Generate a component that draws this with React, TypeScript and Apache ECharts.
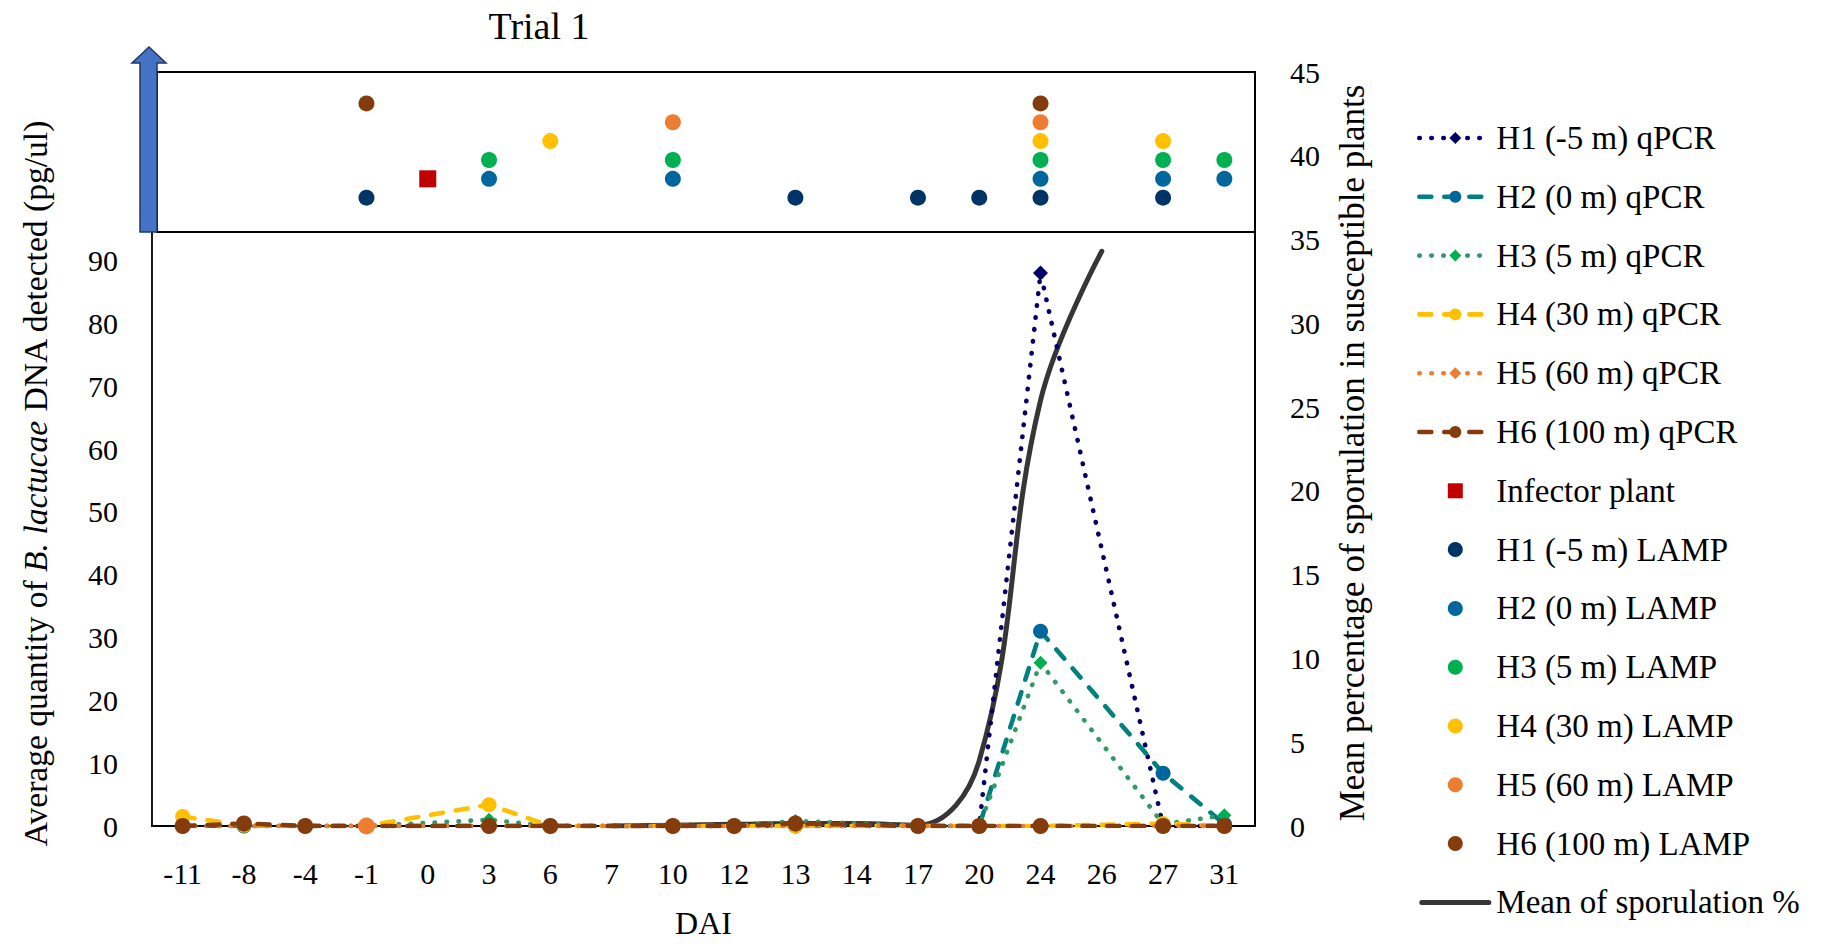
import { useEffect, useRef } from 'react';
import * as echarts from 'echarts';

// ---------- data ----------
const categories = ['-11', '-8', '-4', '-1', '0', '3', '6', '7', '10', '12', '13', '14', '17', '20', '24', '26', '27', '31'];

// qPCR: average quantity of DNA (pg/ul), left axis
const h1Qpcr = [0, 0, 0, 0, null, 0, 0, null, 0, 0, 0, null, 0, 0, 88, null, 0, 0];
const h2Qpcr = [0, 0, 0, 0, null, 0, 0, null, 0, 0, 0, null, 0, 0, 31, null, 8.4, 0.3];
const h3Qpcr = [0, 0, 0, 0, null, 1.0, 0, null, 0, 0, 0.8, null, 0, 0, 26, null, 0.3, 1.7];
const h4Qpcr = [1.5, 0.1, 0, 0, null, 3.4, 0, null, 0, 0, 0, null, 0, 0, 0, null, 0.4, 0];
const h5Qpcr = [0, 0, 0, 0, null, 0, 0, null, 0, 0, 0, null, 0, 0, 0, null, 0, 0];
const h6Qpcr = [0, 0.4, 0, null, null, 0, 0, null, 0, 0, 0.4, null, 0, 0, 0, null, 0, 0];

// mean sporulation %, right axis
const sporulation = [null, null, null, null, null, null, null, 0, 0.05, 0.1, 0.15, 0.15, 0.05, 3.9, 25.4, 34.3, null, null];

// LAMP positive detections (days), plotted as rows in the upper band
const lampH1Days = ['-1', '13', '17', '20', '24', '27'];
const lampH2Days = ['3', '10', '24', '27', '31'];
const lampH3Days = ['3', '10', '24', '27', '31'];
const lampH4Days = ['6', '24', '27'];
const lampH5Days = ['10', '24'];
const lampH6Days = ['-1', '24'];
const infectorDays = ['0'];
const lampRowLevels = [100, 103, 106, 109, 112, 115];
const infectorLevel = 103;

const leftTicksShownMax = 90;

// ---------- styles ----------
const FONT = 'Liberation Serif';
const DOTTED = [0.5, 11.5];
const DASHED = [12, 13];
const SQUARE_ICON = 'path://M0,0L10,0L10,10L0,10Z';
const LINE_ICON = 'path://M2.5,0L69.5,0A2.5,2.5,0,0,1,69.5,5L2.5,5A2.5,2.5,0,0,1,2.5,0Z';

function qpcr(name: string, data: any[], lineColor: string, markColor: string, dash: number[], symbol: string, size: number) {
  return {
    name,
    type: 'line',
    data,
    yAxisIndex: 0,
    connectNulls: true,
    symbol,
    symbolSize: size,
    showSymbol: true,
    itemStyle: { color: markColor, opacity: 1 },
    lineStyle: { color: lineColor, width: 4.6, type: dash, cap: 'round' },
    z: 3,
  };
}

function lamp(name: string, days: string[], level: number, color: string) {
  return {
    name,
    type: 'scatter',
    yAxisIndex: 0,
    symbol: 'circle',
    symbolSize: 16,
    itemStyle: { color, opacity: 1 },
    data: days.map((d) => [d, level]),
    z: 4,
  };
}

export default function App() {
  const ref = useRef<HTMLDivElement>(null);

  useEffect(() => {
    const chart = echarts.init(ref.current!, null, { renderer: 'svg' });

    const h5Data = h5Qpcr.map((v, i) => (categories[i] === '-1' && v !== null ? { value: v, symbol: 'circle', symbolSize: 17 } : v));

    const series: any[] = [
      qpcr('H1 (-5 m) qPCR', h1Qpcr, '#000066', '#000066', DOTTED, 'diamond', 15),
      qpcr('H2 (0 m) qPCR', h2Qpcr, '#008080', '#00669E', DASHED, 'circle', 15),
      qpcr('H3 (5 m) qPCR', h3Qpcr, '#339966', '#00B050', DOTTED, 'diamond', 14),
      qpcr('H4 (30 m) qPCR', h4Qpcr, '#FFC000', '#FFC000', DASHED, 'circle', 15),
      qpcr('H5 (60 m) qPCR', h5Data, '#ED7D31', '#ED7D31', DOTTED, 'diamond', 14),
      qpcr('H6 (100 m) qPCR', h6Qpcr, '#843C0C', '#843C0C', DASHED, 'circle', 16),
      {
        name: 'Infector plant',
        type: 'scatter',
        yAxisIndex: 0,
        symbol: 'rect',
        symbolSize: 17,
        itemStyle: { color: '#C00000', opacity: 1 },
        data: infectorDays.map((d) => [d, infectorLevel]),
        z: 4,
      },
      lamp('H1 (-5 m) LAMP', lampH1Days, lampRowLevels[0], '#003366'),
      lamp('H2 (0 m) LAMP', lampH2Days, lampRowLevels[1], '#00669E'),
      lamp('H3 (5 m) LAMP', lampH3Days, lampRowLevels[2], '#00B050'),
      lamp('H4 (30 m) LAMP', lampH4Days, lampRowLevels[3], '#FFC000'),
      lamp('H5 (60 m) LAMP', lampH5Days, lampRowLevels[4], '#ED7D31'),
      lamp('H6 (100 m) LAMP', lampH6Days, lampRowLevels[5], '#843C0C'),
      {
        name: 'Mean of sporulation %',
        type: 'line',
        yAxisIndex: 1,
        data: sporulation,
        smooth: 0.4,
        symbol: 'none',
        lineStyle: { color: '#363636', width: 5, cap: 'round' },
        itemStyle: { color: '#363636' },
        z: 2,
      },
    ];

    const legendData = series.map((s) => {
      if (s.name === 'Infector plant') return { name: s.name, icon: SQUARE_ICON };
      if (s.name === 'Mean of sporulation %') return { name: s.name, icon: LINE_ICON };
      return { name: s.name };
    });

    const option: any = {
      animation: false,
      backgroundColor: '#ffffff',
      textStyle: { fontFamily: FONT, color: '#000' },
      grid: { left: 152, right: 576, top: 72, bottom: 113, containLabel: false },
      legend: {
        orient: 'vertical',
        left: 1417,
        top: 121,
        padding: 0,
        itemWidth: 72,
        itemHeight: 15,
        itemGap: 24.8,
        lineStyle: { width: 4.6, cap: 'round' },
        textStyle: { fontFamily: FONT, fontSize: 33, lineHeight: 34, color: '#000' },
        data: legendData,
      },
      xAxis: {
        type: 'category',
        data: categories,
        boundaryGap: true,
        axisLine: { show: true, lineStyle: { color: '#000', width: 2 } },
        axisTick: { show: false },
        axisLabel: { fontFamily: FONT, fontSize: 30, color: '#000', margin: 32, interval: 0 },
        splitLine: { show: false },
        name: 'DAI',
        nameLocation: 'middle',
        nameGap: 81,
        nameTextStyle: { fontFamily: FONT, fontSize: 32, color: '#000' },
      },
      yAxis: [
        {
          type: 'value',
          min: 0,
          max: 120,
          interval: 10,
          position: 'left',
          axisLine: { show: true, lineStyle: { color: '#000', width: 1.8 } },
          axisTick: { show: false },
          splitLine: { show: false },
          axisLabel: {
            fontFamily: FONT,
            fontSize: 30,
            color: '#000',
            margin: 34,
            formatter: (v: number) => (v <= leftTicksShownMax ? String(v) : ''),
          },
        },
        {
          type: 'value',
          min: 0,
          max: 45,
          interval: 5,
          position: 'right',
          axisLine: { show: true, lineStyle: { color: '#000', width: 2 } },
          axisTick: { show: false },
          splitLine: { show: false },
          axisLabel: { fontFamily: FONT, fontSize: 30, color: '#000', margin: 35 },
        },
      ],
      graphic: [
        {
          type: 'rect',
          z: 10,
          shape: { x: 157, y: 72, width: 1098, height: 160 },
          style: { fill: 'none', stroke: '#000', lineWidth: 2 },
          silent: true,
        },
        {
          type: 'polygon',
          z: 11,
          shape: { points: [[149, 47], [166, 63], [157, 63], [157, 232], [140, 232], [140, 63], [132, 63]] },
          style: { fill: '#4472C4', stroke: '#1F3864', lineWidth: 1.5 },
          silent: true,
        },
        {
          type: 'text',
          z: 11,
          x: 539,
          y: 26,
          style: { text: 'Trial 1', fontFamily: FONT, fontSize: 38, fill: '#000', align: 'center', verticalAlign: 'middle' },
        },
        {
          type: 'text',
          z: 11,
          x: 35,
          y: 483,
          rotation: Math.PI / 2,
          style: {
            text: '{a|Average quantity of }{b|B. lactucae}{a| DNA detected (pg/ul)}',
            align: 'center',
            verticalAlign: 'middle',
            rich: {
              a: { fontFamily: FONT, fontSize: 33.6, fill: '#000' },
              b: { fontFamily: FONT, fontSize: 33.6, fill: '#000', fontStyle: 'italic' },
            },
          },
        },
        {
          type: 'text',
          z: 11,
          x: 1352,
          y: 453,
          rotation: Math.PI / 2,
          style: {
            text: 'Mean percentage of sporulation in susceptible plants',
            fontFamily: FONT,
            fontSize: 35,
            fill: '#000',
            align: 'center',
            verticalAlign: 'middle',
          },
        },
      ],
      series,
    };

    chart.setOption(option);
    return () => chart.dispose();
  }, []);

  return <div ref={ref} style={{ position: 'fixed', left: 0, top: 0, width: 1831, height: 944, background: '#fff' }} />;
}
